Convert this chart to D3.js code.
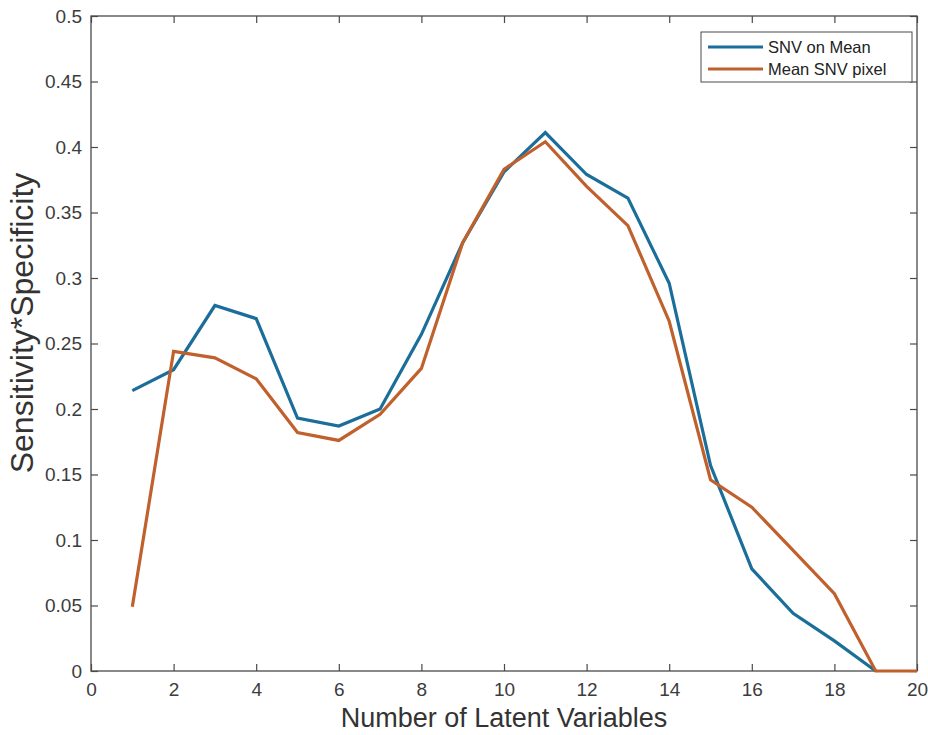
<!DOCTYPE html>
<html>
<head>
<meta charset="utf-8">
<script src="https://cdn.jsdelivr.net/npm/d3@7"></script>
<style>
body{margin:0;background:#fff;}
svg{display:block;font-family:"Liberation Sans",Arial,sans-serif;}
</style>
</head>
<body>
<div id="chart"></div>
<script>
// values
var latentVars = [1,2,3,4,5,6,7,8,9,10,11,12,13,14,15,16,17,18,19,20];
var snvOnMean = [0.214,0.230,0.279,0.269,0.193,0.187,0.200,0.257,0.327,0.381,0.411,0.379,0.361,0.296,0.157,0.078,0.044,0.023,0.000,null];
var meanSnvPixel = [0.049,0.244,0.239,0.223,0.182,0.176,0.196,0.231,0.327,0.383,0.404,0.370,0.340,0.267,0.146,0.125,0.092,0.059,0.000,0.000];
var xTicks = [0,2,4,6,8,10,12,14,16,18,20];
var yTicks = [0,0.05,0.1,0.15,0.2,0.25,0.3,0.35,0.4,0.45,0.5];
var seriesNames = ["SNV on Mean","Mean SNV pixel"];
var seriesColors = ["#1b6e9a","#c0602c"];

var W = 928, H = 735;
var m = {left:91, right:11, top:16, bottom:64};
var pw = W - m.left - m.right, ph = H - m.top - m.bottom;

var svg = d3.select("#chart").append("svg")
	.attr("width",W).attr("height",H);

var x = d3.scaleLinear().domain([0,20]).range([m.left, m.left+pw]);
var y = d3.scaleLinear().domain([0,0.5]).range([m.top+ph, m.top]);

var axisColor = "#4a4a4a", textColor = "#3c3c3c";

// axes, ticks pointing inward (box style)
function styleAxis(g){
	g.select(".domain").remove();
	g.selectAll(".tick line").attr("stroke",axisColor).attr("stroke-width",1.2);
	g.selectAll(".tick text").attr("fill",textColor).style("font-size","19px");
}
svg.append("g")
	.attr("transform","translate(0,"+(m.top+ph)+")")
	.call(d3.axisBottom(x).tickValues(xTicks).tickSize(-7).tickPadding(12).tickFormat(d3.format("d")))
	.call(styleAxis);
svg.append("g")
	.attr("transform","translate(0,"+m.top+")")
	.call(d3.axisTop(x).tickValues(xTicks).tickSize(-7).tickFormat(""))
	.call(styleAxis);
svg.append("g")
	.attr("transform","translate("+m.left+",0)")
	.call(d3.axisLeft(y).tickValues(yTicks).tickSize(-7).tickPadding(9).tickFormat(function(d){return String(+d.toFixed(2));}))
	.call(styleAxis);
svg.append("g")
	.attr("transform","translate("+(m.left+pw)+",0)")
	.call(d3.axisRight(y).tickValues(yTicks).tickSize(-7).tickFormat(""))
	.call(styleAxis);

svg.append("rect")
	.attr("x",m.left).attr("y",m.top).attr("width",pw).attr("height",ph)
	.attr("fill","none").attr("stroke",axisColor).attr("stroke-width",1.3);

// lines
var line = d3.line()
	.defined(function(d){return d[1] != null;})
	.x(function(d){return x(d[0]);})
	.y(function(d){return y(d[1]);});
[snvOnMean, meanSnvPixel].forEach(function(vals,i){
	svg.append("path")
		.datum(latentVars.map(function(v,j){return [v, vals[j]];}))
		.attr("d",line)
		.attr("fill","none")
		.attr("stroke",seriesColors[i])
		.attr("stroke-width",3.2)
		.attr("stroke-linejoin","miter");
});

// legend
var lg = svg.append("g").attr("transform","translate(701,32)");
lg.append("rect").attr("width",211).attr("height",50)
	.attr("fill","#fff").attr("stroke",axisColor).attr("stroke-width",1);
seriesNames.forEach(function(name,i){
	var yy = 15 + i*22;
	lg.append("line").attr("x1",7).attr("x2",62).attr("y1",yy).attr("y2",yy)
		.attr("stroke",seriesColors[i]).attr("stroke-width",3.2);
	lg.append("text").attr("x",67).attr("y",yy).attr("dy","0.35em")
		.attr("fill","#222").style("font-size","16.5px").text(name);
});

// axis titles
svg.append("text")
	.attr("x",m.left+pw/2).attr("y",727)
	.attr("text-anchor","middle").attr("fill","#333")
	.style("font-size","27px")
	.text("Number of Latent Variables");
svg.append("text")
	.attr("transform","translate(33,323) rotate(-90)")
	.attr("text-anchor","middle").attr("fill","#333")
	.style("font-size","32px")
	.text("Sensitivity*Specificity");
</script>
</body>
</html>
